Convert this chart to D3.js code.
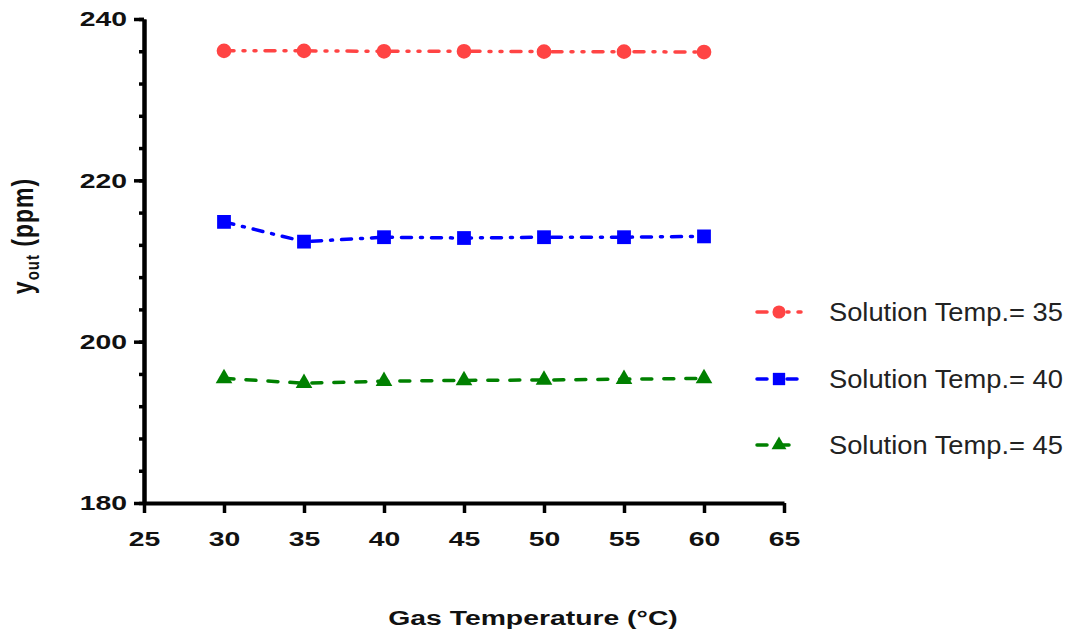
<!DOCTYPE html>
<html>
<head>
<meta charset="utf-8">
<script src="https://cdn.jsdelivr.net/npm/d3@7"></script>
<style>
  html, body { margin: 0; padding: 0; background: #fff; }
  svg { display: block; }
</style>
</head>
<body>
<svg id="chart" width="1073" height="637"></svg>
<script>
// ---- data ----
const gasTemps = [30, 35, 40, 45, 50, 55, 60];
const sol35 = [236.05, 236.05, 236.0, 236.0, 235.95, 235.95, 235.9];
const sol40 = [214.85, 212.4, 212.95, 212.85, 212.95, 212.95, 213.05];
const sol45 = [195.45, 194.85, 195.1, 195.2, 195.25, 195.35, 195.45];
const seriesNames = ["Solution Temp.= 35", "Solution Temp.= 40", "Solution Temp.= 45"];
const xTicks = [25, 30, 35, 40, 45, 50, 55, 60, 65];
const yTicks = [180, 200, 220, 240];
const yMinorTicks = d3.range(180, 241, 4);
const xTitle = "Gas Temperature (°C)";

const styles = [
  { color: "#FF4444", dash: "10,9,2,9,2,9", symbol: d3.symbolCircle, size: 170 },
  { color: "#0000FF", dash: "10,9,2,9", symbol: d3.symbolSquare, size: 190 },
  { color: "#008000", dash: "10,12", symbol: d3.symbolTriangle, size: 120 }
];
const seriesValues = [sol35, sol40, sol45];

const svg = d3.select("#chart");
const x = d3.scaleLinear().domain([25, 65]).range([144, 784]);
const y = d3.scaleLinear().domain([180, 240]).range([503, 19]);

const font = "'Liberation Sans', Arial, sans-serif";
const boldStretch = 1.35;

// ---- lines & markers ----
const line = d3.line().x((d, i) => x(gasTemps[i])).y(d => y(d));
seriesValues.forEach((vals, k) => {
  const st = styles[k];
  svg.append("path")
    .datum(vals)
    .attr("d", line)
    .attr("fill", "none")
    .attr("stroke", st.color)
    .attr("stroke-width", 3.5)
    .attr("stroke-linecap", "round")
    .attr("stroke-dasharray", st.dash);
  svg.selectAll(null)
    .data(vals)
    .enter()
    .append("path")
    .attr("d", d3.symbol().type(st.symbol).size(st.size))
    .attr("transform", (d, i) => `translate(${x(gasTemps[i])},${y(d)})`)
    .attr("fill", st.color);
});

// ---- axes ----
function styleAxis(g) {
  g.select(".domain").attr("stroke", "#000").attr("stroke-width", 4);
  g.selectAll(".tick line").attr("stroke", "#000").attr("stroke-width", 3.5);
  g.selectAll(".tick text")
    .attr("fill", "#111")
    .style("font-family", font)
    .style("font-weight", "bold")
    .style("font-size", "21px");
}

svg.append("g")
  .attr("transform", "translate(144,0)")
  .call(d3.axisLeft(y).tickValues(yMinorTicks).tickSize(5).tickSizeOuter(0).tickFormat(""))
  .call(styleAxis);

const yAxisG = svg.append("g")
  .attr("transform", "translate(144,0)")
  .call(d3.axisLeft(y).tickValues(yTicks).tickSize(10).tickSizeOuter(0).tickPadding(7).tickFormat(d3.format("d")))
  .call(styleAxis);
yAxisG.selectAll(".tick text")
  .attr("x", 0)
  .attr("transform", `translate(-17,0) scale(${boldStretch},1)`);

const xAxisG = svg.append("g")
  .attr("transform", "translate(0,503)")
  .call(d3.axisBottom(x).tickValues(xTicks).tickSize(10).tickSizeOuter(0).tickPadding(18).tickFormat(d3.format("d")))
  .call(styleAxis);
xAxisG.selectAll(".tick text")
  .attr("transform", `scale(${boldStretch},1)`);

// ---- axis titles ----
svg.append("text")
  .attr("transform", `translate(533,625) scale(${boldStretch},1)`)
  .attr("text-anchor", "middle")
  .style("font-family", font)
  .style("font-weight", "bold")
  .style("font-size", "21px")
  .attr("fill", "#111")
  .text(xTitle);

const yt = svg.append("text")
  .attr("transform", `translate(33,236) scale(1.25,1) rotate(-90)`)
  .attr("text-anchor", "middle")
  .style("font-family", font)
  .style("font-weight", "bold")
  .style("font-size", "23px")
  .style("letter-spacing", "1px")
  .attr("fill", "#111");
yt.append("tspan").text("y");
yt.append("tspan").attr("dy", 5).style("font-size", "15px").text("out");
yt.append("tspan").attr("dy", -5).text(" (ppm)");

// ---- legend ----
const legendY = [312, 379, 445];
seriesNames.forEach((name, k) => {
  const st = styles[k];
  const g = svg.append("g").attr("transform", `translate(0,${legendY[k]})`);
  g.append("line")
    .attr("x1", 757).attr("x2", 801)
    .attr("y1", 0).attr("y2", 0)
    .attr("stroke", st.color)
    .attr("stroke-width", 3.5)
    .attr("stroke-linecap", "round")
    .attr("stroke-dasharray", st.dash);
  g.append("path")
    .attr("d", d3.symbol().type(st.symbol).size(st.size * 0.8))
    .attr("transform", "translate(779,0)")
    .attr("fill", st.color);
  g.append("text")
    .attr("transform", "translate(829,9) scale(1.05,1)")
    .style("font-family", font)
    .style("font-size", "26px")
    .attr("fill", "#222")
    .text(name);
});
</script>
</body>
</html>
